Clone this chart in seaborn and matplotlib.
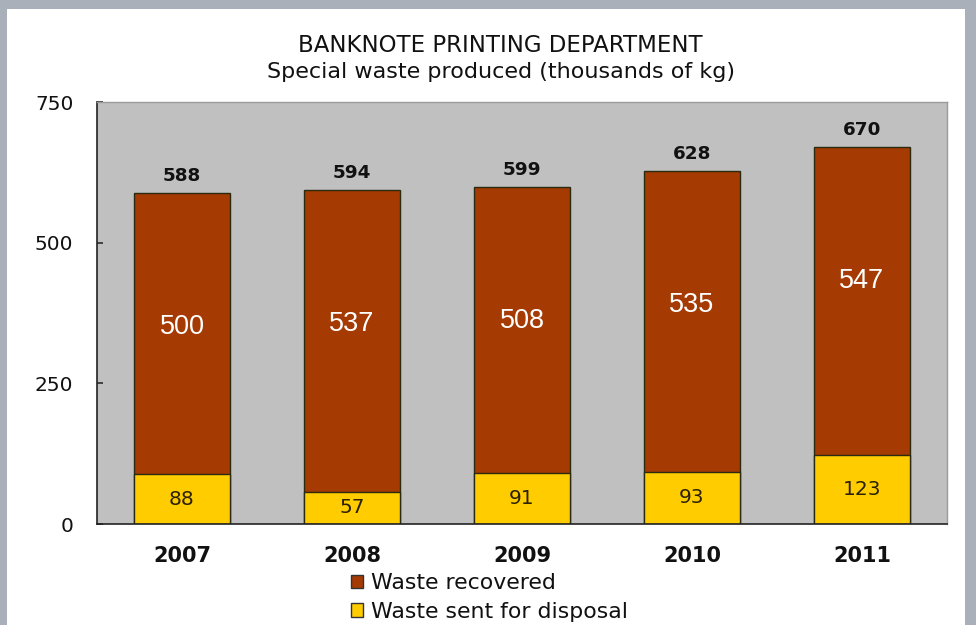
import matplotlib
matplotlib.use("Agg")
import matplotlib.pyplot as plt
from matplotlib.patches import Rectangle, Patch
import seaborn as sns
import pandas as pd

years = ["2007", "2008", "2009", "2010", "2011"]
recovered = [500, 537, 508, 535, 547]
disposal = [88, 57, 91, 93, 123]
totals = [r + d for r, d in zip(recovered, disposal)]

BROWN = "#a53a02"
YELLOW = "#ffcc00"
PANEL = "#c0c0c0"
FRAME = "#aab0b9"

sns.set_theme(style="white")
plt.rcParams["font.family"] = ["DejaVu Sans"]

df = pd.DataFrame({"year": years, "recovered": recovered,
                   "disposal": disposal, "total": totals})

fig = plt.figure(figsize=(9.76, 6.25), dpi=100)
fig.patch.set_facecolor(FRAME)
fig.add_artist(Rectangle((7 / 976, 0), (965 - 7) / 976, (625 - 9) / 625,
                         transform=fig.transFigure, facecolor="white",
                         edgecolor="none", zorder=0))

ax = fig.add_axes([97 / 976, 101 / 625, 850 / 976, 422 / 625])
ax.set_facecolor(PANEL)

# stacked columns: full height in brown, disposal share in yellow on top of it
sns.barplot(data=df, x="year", y="total", color=BROWN, width=0.56,
            edgecolor="#2a2a10", linewidth=1.0, saturation=1, ax=ax)
sns.barplot(data=df, x="year", y="disposal", color=YELLOW, width=0.56,
            edgecolor="#2a2a10", linewidth=1.0, saturation=1, ax=ax)

ax.set_ylim(0, 750)
ax.set_yticks([0, 250, 500, 750])
ax.set_xlim(-0.5, 4.5)
ax.set_xlabel("")
ax.set_ylabel("")

for i in range(len(years)):
    ax.text(i, totals[i] + 30, str(totals[i]), ha="center", va="center",
            fontsize=13.2, fontweight="bold", color="#111111")
    ax.text(i, totals[i] - 238, str(recovered[i]),
            ha="center", va="center", fontsize=19.5, color="white",
            family="Liberation Sans")
    ax.text(i, disposal[i] / 2, str(disposal[i]), ha="center", va="center",
            fontsize=14.5, color="#2b2000")

ax.tick_params(axis="y", direction="in", length=4, pad=17, labelsize=14.5,
               left=True, color="#333333", labelcolor="#111111")
ax.tick_params(axis="x", length=0, pad=16, labelsize=15, labelcolor="#111111")
for lab in ax.get_xticklabels():
    lab.set_fontweight("bold")
for side in ["left", "bottom"]:
    ax.spines[side].set_color("#222222")
    ax.spines[side].set_linewidth(1.2)
for side in ["top", "right"]:
    ax.spines[side].set_color("#9a9a9a")
    ax.spines[side].set_linewidth(1.0)

fig.text(0.513, 0.928, "BANKNOTE PRINTING DEPARTMENT", ha="center",
         va="center", fontsize=16.5, color="#111111")
fig.text(0.513, 0.884, "Special waste produced (thousands of kg)",
         ha="center", va="center", fontsize=16, color="#111111")

handles = [Patch(facecolor=BROWN, edgecolor="#333333", label="Waste recovered"),
           Patch(facecolor=YELLOW, edgecolor="#333333",
                 label="Waste sent for disposal")]
fig.legend(handles=handles, loc="upper left", bbox_to_anchor=(351 / 976, 52 / 625),
           frameon=False, fontsize=15.8, handlelength=0.55, handleheight=0.55,
           handletextpad=0.35, labelspacing=0.4, borderaxespad=0,
           borderpad=0, labelcolor="#111111")

fig.savefig("out.png", dpi=100, facecolor=fig.get_facecolor())
